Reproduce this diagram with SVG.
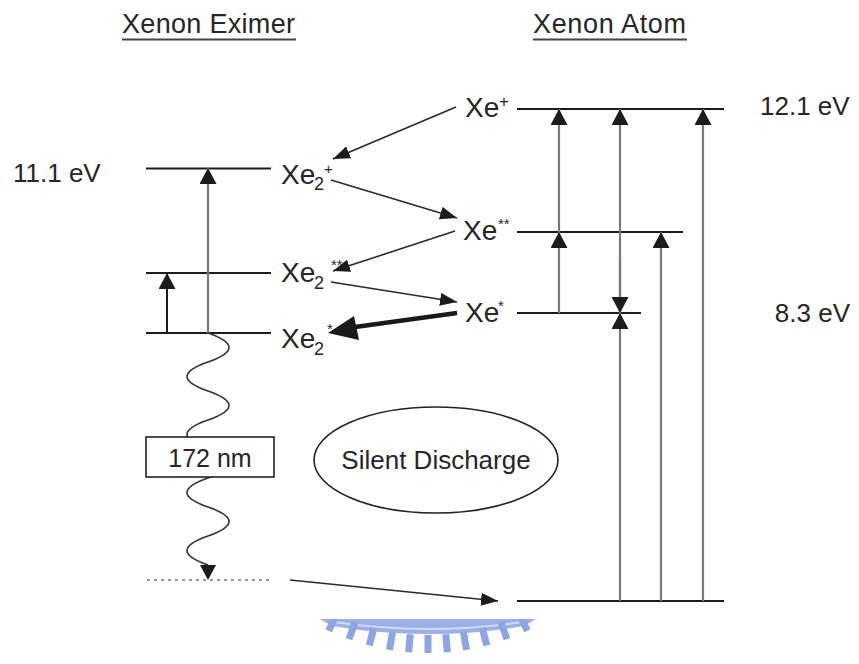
<svg xmlns="http://www.w3.org/2000/svg" width="859" height="664" viewBox="0 0 859 664">
<defs>
<style>
text{font-family:"Liberation Sans",Arial,sans-serif;fill:#262626}
.t{font-size:27px}
.ev{font-size:26px}
.xe{font-size:28px}
.sup{font-size:15px}
.sub{font-size:18px}
.lvl{stroke:#1c1c1c;stroke-width:2;fill:none}
.tr{stroke:#7a7a7a;stroke-width:2.2;fill:none}
.dg{stroke:#2a2a2a;stroke-width:1.6;fill:none}
.ul{stroke:#444;stroke-width:2}
.wm{fill:#8aa2e6}
.tooth{stroke:#7b96df;stroke-width:7;stroke-linecap:butt}
</style>
<marker id="ah" markerUnits="userSpaceOnUse" markerWidth="17" markerHeight="13" refX="17" refY="6.5" orient="auto"><path d="M0,0 L17,6.5 L0,13 z" fill="#1c1c1c"/></marker>
<marker id="vh" markerUnits="userSpaceOnUse" markerWidth="16" markerHeight="17" refX="16" refY="8.5" orient="auto"><path d="M0,0 L16,8.5 L0,17 z" fill="#1c1c1c"/></marker>
<clipPath id="wmclip"><rect x="300" y="619" width="260" height="45"/></clipPath>
</defs>
<rect width="859" height="664" fill="#fff"/>

<g id="title-eximer"><text class="t" x="122" y="33" textLength="173">Xenon Eximer</text><line class="ul" x1="122" y1="39.5" x2="296" y2="39.5"/></g>
<g id="title-atom"><text class="t" x="533" y="33" textLength="153">Xenon Atom</text><line class="ul" x1="533" y1="39.5" x2="687" y2="39.5"/></g>

<g id="label-11eV"><text class="ev" x="13" y="182">11.1 eV</text></g>
<g id="label-12eV"><text class="ev" x="760" y="115">12.1 eV</text></g>
<g id="label-8eV"><text class="ev" x="850" y="322" text-anchor="end">8.3 eV</text></g>

<g id="level-xe2plus"><line class="lvl" x1="146" y1="168.5" x2="271" y2="168.5"/>
<text class="xe" x="281" y="184">Xe<tspan class="sub" x="314" y="190">2</tspan><tspan class="sup" x="324" y="174">+</tspan></text></g>
<g id="level-xe2ss"><line class="lvl" x1="146" y1="273" x2="271" y2="273"/>
<text class="xe" x="281" y="282">Xe<tspan class="sub" x="314" y="289">2</tspan><tspan class="sup" x="331" y="270">**</tspan></text></g>
<g id="level-xe2s"><line class="lvl" x1="146" y1="333" x2="271" y2="333"/>
<text class="xe" x="281" y="348">Xe<tspan class="sub" x="314" y="355">2</tspan><tspan class="sup" x="327" y="334">*</tspan></text></g>

<g id="level-xeplus"><line class="lvl" x1="517" y1="109" x2="724" y2="109"/>
<text class="xe" x="465" y="117">Xe<tspan style="font-size:17px" x="499" y="107">+</tspan></text></g>
<g id="level-xess"><line class="lvl" x1="517" y1="232" x2="683" y2="232"/>
<text class="xe" x="463" y="240">Xe<tspan class="sup" x="498" y="229">**</tspan></text></g>
<g id="level-xes"><line class="lvl" x1="517" y1="313" x2="641" y2="313"/>
<text class="xe" x="465" y="322">Xe<tspan class="sup" x="498" y="311">*</tspan></text></g>
<g id="level-ground"><line class="lvl" x1="517" y1="601" x2="724" y2="601"/></g>
<g id="level-dotted"><line x1="147" y1="580" x2="272" y2="580" stroke="#9a9a9a" stroke-width="2" stroke-dasharray="3,4"/></g>

<g id="connectors">
<line class="dg" x1="456" y1="107" x2="333" y2="159" marker-end="url(#ah)"/>
<line class="dg" x1="331" y1="180" x2="457" y2="218" marker-end="url(#ah)"/>
<line class="dg" x1="455" y1="231" x2="333" y2="271" marker-end="url(#ah)"/>
<line class="dg" x1="331" y1="282" x2="457" y2="302" marker-end="url(#ah)"/>
<line x1="457" y1="313" x2="355" y2="327" stroke="#1a1a1a" stroke-width="4.5"/>
<polygon points="328,333 354,316 359,340" fill="#1a1a1a"/>
<line class="dg" x1="290" y1="580" x2="498" y2="601" marker-end="url(#ah)"/>

<line class="tr" x1="208" y1="333" x2="208" y2="168" marker-end="url(#vh)"/>
<line x1="167" y1="333" x2="167" y2="273" stroke="#1c1c1c" stroke-width="2" marker-end="url(#vh)"/>
<line class="tr" x1="559" y1="313" x2="559" y2="232" marker-end="url(#vh)"/>
<line class="tr" x1="559" y1="232" x2="559" y2="109" marker-end="url(#vh)"/>
<line class="tr" x1="620" y1="601" x2="620" y2="313" marker-end="url(#vh)"/>
<line class="tr" x1="620" y1="313" x2="620" y2="109" marker-end="url(#vh)"/>
<line class="tr" x1="620" y1="260" x2="620" y2="313" marker-end="url(#vh)"/>
<line class="tr" x1="661" y1="601" x2="661" y2="232" marker-end="url(#vh)"/>
<line class="tr" x1="703" y1="601" x2="703" y2="109" marker-end="url(#vh)"/>

<path d="M208,333 q42,14.5 0,29 t0,29 t0,29 t0,29 t0,29 t0,29 t0,29 t0,29" fill="none" stroke="#333" stroke-width="1.6"/>
<polygon points="200,565 216,565 208,580" fill="#1c1c1c"/>
</g>

<g id="box-172nm"><rect x="146" y="437" width="128" height="40" fill="#fff" stroke="#222" stroke-width="1.6"/>
<text x="210" y="467" text-anchor="middle" style="font-size:25px">172 nm</text></g>

<g id="silent-discharge"><ellipse cx="436" cy="460" rx="122" ry="53" fill="none" stroke="#222" stroke-width="1.6"/>
<text x="436" y="469" text-anchor="middle" style="font-size:26px">Silent Discharge</text></g>

<g id="watermark" clip-path="url(#wmclip)" opacity="0.85">
<path class="wm" d="M320,619 L536,619 L524,626 Q428,642 332,626 Z"/>
<path d="M334,622 Q428,636 522,622" fill="none" stroke="#c9d5f5" stroke-width="2"/>
<line class="tooth" x1="336.4" y1="614.4" x2="328.7" y2="630.7"/>
<line class="tooth" x1="355.1" y1="622.2" x2="349" y2="639.1"/>
<line class="tooth" x1="373.8" y1="628" x2="369.2" y2="645.4"/>
<line class="tooth" x1="392.5" y1="632" x2="389.5" y2="649.8"/>
<line class="tooth" x1="410.2" y1="634.3" x2="408.7" y2="652.2"/>
<line class="tooth" x1="428" y1="635" x2="428" y2="653"/>
<line class="tooth" x1="445.8" y1="634.3" x2="447.3" y2="652.2"/>
<line class="tooth" x1="463.5" y1="632" x2="466.5" y2="649.8"/>
<line class="tooth" x1="482.2" y1="628" x2="486.8" y2="645.4"/>
<line class="tooth" x1="500.9" y1="622.2" x2="507" y2="639.1"/>
<line class="tooth" x1="519.6" y1="614.4" x2="527.3" y2="630.7"/>
</g>
</svg>
